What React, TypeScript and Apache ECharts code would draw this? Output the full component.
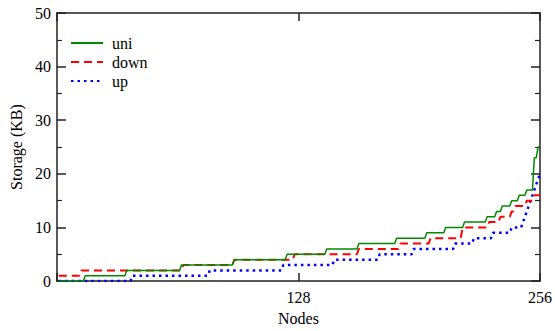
import React, { useEffect, useRef } from "react";
import * as echarts from "echarts";

// Run-length readings from the picture: [storage (KB), number of nodes]
const uniRuns: [number, number][] = [
  [0, 14], [1, 22], [2, 29], [3, 28], [4, 28], [5, 21], [6, 17], [7, 20],
  [8, 16], [9, 10], [10, 10], [11, 12], [12, 5], [13, 3], [14, 5], [15, 4],
  [16, 4], [17, 4], [23, 2], [25, 2],
];
const downRuns: [number, number][] = [
  [1, 12], [2, 54], [3, 27], [4, 32], [5, 34], [6, 22], [7, 16], [8, 17],
  [10, 14], [11, 6], [12, 6], [13, 2], [14, 6], [15, 4], [16, 4],
];
const upRuns: [number, number][] = [
  [0, 39], [1, 41], [2, 39], [3, 27], [4, 24], [5, 18], [6, 22], [7, 10],
  [8, 10], [9, 10], [10, 6], [11, 1], [12, 1], [13, 1], [14, 1], [15, 1],
  [16, 1], [17, 1], [18, 1], [19, 1], [20, 1],
];
const seriesNames = ["uni", "down", "up"];
const xTicks = [0, 128, 256];
const yTicks = [0, 10, 20, 30, 40, 50];

function expand(runs: [number, number][]): number[][] {
  const out: number[][] = [];
  let node = 1;
  for (const [v, n] of runs) {
    for (let k = 0; k < n; k++) {
      out.push([node, v]);
      node++;
    }
  }
  return out;
}

const FONT = "'Times New Roman', 'Liberation Serif', serif";

export default function App() {
  const ref = useRef<HTMLDivElement>(null);
  useEffect(() => {
    if (!ref.current) return;
    const chart = echarts.init(ref.current, null, { renderer: "svg" });
    const axisLine = { show: true, onZero: false, lineStyle: { color: "#222", width: 1.5 } };
    const baseX = {
      type: "value" as const,
      min: xTicks[0],
      max: xTicks[xTicks.length - 1],
      interval: xTicks[1] - xTicks[0],
      splitLine: { show: false },
      axisLine,
      axisTick: { inside: true, length: 8, lineStyle: { color: "#222", width: 1.5 } },
    };
    const baseY = {
      type: "value" as const,
      min: yTicks[0],
      max: yTicks[yTicks.length - 1],
      interval: yTicks[1] - yTicks[0],
      splitLine: { show: false },
      axisLine,
      axisTick: { inside: true, length: 9, lineStyle: { color: "#222", width: 1.5 } },
      minorTick: { show: true, splitNumber: 2, length: 5, lineStyle: { color: "#222", width: 1.2 } },
    };
    chart.setOption({
      animation: false,
      backgroundColor: "#fff",
      grid: { left: 53, right: 12, top: 13, bottom: 37 },
      legend: {
        orient: "vertical",
        left: 70,
        top: 35,
        padding: 0,
        itemWidth: 32,
        itemHeight: 14,
        itemGap: 3,
        itemStyle: { opacity: 0 },
        textStyle: { fontFamily: FONT, fontSize: 16, lineHeight: 14, color: "#000", padding: [0, 0, 0, 4] },
        data: seriesNames,
      },
      xAxis: [
        {
          ...baseX,
          position: "bottom",
          name: "Nodes",
          nameLocation: "middle",
          nameGap: 20,
          nameTextStyle: { fontFamily: FONT, fontSize: 16, color: "#000" },
          axisLabel: {
            fontFamily: FONT,
            fontSize: 16,
            color: "#000",
            margin: 8,
            formatter: (v: number) => (v === 0 ? "" : String(v)),
          },
        },
        { ...baseX, position: "top", axisLabel: { show: false } },
      ],
      yAxis: [
        {
          ...baseY,
          position: "left",
          name: "Storage (KB)",
          nameLocation: "middle",
          nameGap: 27,
          nameTextStyle: { fontFamily: FONT, fontSize: 16, color: "#000" },
          axisLabel: { fontFamily: FONT, fontSize: 16, color: "#000", margin: 6 },
        },
        { ...baseY, position: "right", axisLabel: { show: false } },
      ],
      series: [
        {
          name: seriesNames[0],
          type: "line",
          data: expand(uniRuns),
          symbol: "none",
          color: "#008a00",
          lineStyle: { color: "#008a00", width: 1.5, type: "solid" },
          z: 3,
        },
        {
          name: seriesNames[1],
          type: "line",
          data: expand(downRuns),
          symbol: "none",
          color: "#ff0000",
          lineStyle: { color: "#ff0000", width: 2, type: [8, 5] },
          z: 2,
        },
        {
          name: seriesNames[2],
          type: "line",
          data: expand(upRuns),
          symbol: "none",
          color: "#0000ff",
          lineStyle: { color: "#0000ff", width: 2.5, type: [2.5, 4] },
          z: 1,
        },
      ],
    });
    return () => chart.dispose();
  }, []);
  return <div ref={ref} style={{ width: 555, height: 331, position: "absolute", left: 0, top: 0 }} />;
}
